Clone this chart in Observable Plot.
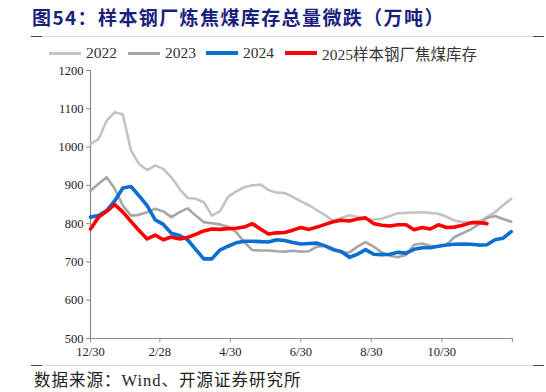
<!DOCTYPE html>
<html>
<head>
<meta charset="utf-8">
<script src="https://cdn.jsdelivr.net/npm/d3@7"></script>
<script src="https://cdn.jsdelivr.net/npm/@observablehq/plot@0.6"></script>
<style>
  html, body { margin: 0; padding: 0; background: #fff; }
  #wrap { position: relative; width: 546px; height: 392px; overflow: hidden; font-family: "Liberation Serif", "Noto Sans CJK SC", serif; }
  #title { position: absolute; left: 32px; top: 5px; font-family: "Noto Sans CJK SC", sans-serif; font-weight: 700; font-size: 19px; letter-spacing: 1.4px; color: #1b1f7d; white-space: nowrap; line-height: 24px; }
  .sep { position: absolute; left: 31px; width: 513px; height: 1px; background: #d9d9d9; }
  .sep::before, .sep::after { content: ""; position: absolute; top: 0; width: 11px; height: 1px; background: #444; }
  .sep::before { left: 0; }
  .sep::after { right: 0; }
  #legend { position: absolute; left: 0; top: 42px; width: 546px; height: 22px; }
  .li { position: absolute; top: 0; display: flex; align-items: center; height: 22px; font-size: 15.5px; color: #333; white-space: nowrap; font-family: "Liberation Serif", "Noto Sans CJK SC", serif; }
  .sw { display: inline-block; width: 32px; margin-right: 5px; }
  #chart { position: absolute; left: 0; top: 60px; }
  #source { position: absolute; left: 34px; top: 371px; font-size: 16.5px; line-height: 19px; color: #222; white-space: nowrap; font-family: "Liberation Serif", "Noto Sans CJK SC", serif; letter-spacing: 1px; }
</style>
</head>
<body>
<div id="wrap">
  <div id="title">图54：样本钢厂炼焦煤库存总量微跌（万吨）</div>
  <div class="sep" style="top:36px"></div>
  <div id="legend"></div>
  <div id="chart"></div>
  <div class="sep" style="top:365px"></div>
  <div id="source">数据来源：Wind、开源证券研究所</div>
</div>
<script>
// ---- data (weekly readings, x = days since 12/30) ----
const seriesNames = ["2022", "2023", "2024", "2025样本钢厂焦煤库存"];
const seriesColors = ["#c3c3c3", "#a6a6a6", "#0a6fd0", "#ff0000"];
const seriesWidths = [2.6, 2.6, 3.6, 3.6];

const v2022 = [1008,1021,1069,1091,1085,991,956,940,952,943,921,891,867,865,856,821,832,870,884,895,900,902,888,881,880,870,858,848,835,822,808,815,822,818,812,810,813,820,827,828,829,830,828,826,818,808,804,804,806,817,830,848,865];
const v2023 = [886,904,921,891,847,821,823,830,839,832,817,830,840,821,804,801,798,792,778,752,731,730,730,728,727,729,727,728,740,742,735,724,725,740,752,740,725,716,712,718,745,748,742,740,745,765,775,785,798,815,820,812,805];
const v2024 = [817,821,834,860,893,897,873,847,810,798,775,769,758,733,708,708,731,741,750,754,754,753,752,758,756,751,747,748,749,742,732,727,712,720,732,720,719,720,725,723,733,737,737,741,744,746,747,746,744,745,758,762,779];
const v2025 = [786,817,832,850,830,806,782,760,770,758,765,760,764,772,781,786,785,787,788,791,800,786,773,776,777,783,790,785,791,798,805,809,807,812,815,800,796,794,797,797,784,790,786,797,790,791,796,802,803,800];

const tickDays = [0, 60, 121, 182, 243, 304, 365];
const tickLabels = ["12/30", "2/28", "4/30", "6/30", "8/30", "10/30", ""];
const yTicks = [500, 600, 700, 800, 900, 1000, 1100, 1200];

// ---- build table ----
const allValues = [v2022, v2023, v2024, v2025];
const rows = [];
allValues.forEach((arr, s) => arr.forEach((v, i) => rows.push({series: seriesNames[s], day: i * 7, value: v})));

// ---- legend ----
const legendPos = [49, 128, 206, 285];
const legend = document.getElementById("legend");
seriesNames.forEach((n, s) => {
  const d = document.createElement("div");
  d.className = "li";
  d.style.left = legendPos[s] + "px";
  d.innerHTML = `<span class="sw" style="height:${s < 2 ? 3 : 4}px;background:${seriesColors[s]}"></span>${n}`;
  legend.appendChild(d);
});

// ---- chart ----
const lineMarks = seriesNames.map((n, s) =>
  Plot.line(rows.filter(r => r.series === n), {x: "day", y: "value", stroke: seriesColors[s], strokeWidth: seriesWidths[s], strokeLinejoin: "round", strokeLinecap: "round"})
);

const chart = Plot.plot({
  width: 546,
  height: 305,
  marginTop: 10,
  marginBottom: 27,
  marginLeft: 90,
  marginRight: 33,
  style: {fontFamily: "'Liberation Serif', serif", fontSize: "12.5px", color: "#222", background: "transparent", overflow: "visible"},
  x: {domain: [0, 366], label: null},
  y: {domain: [500, 1200], label: null},
  marks: [
    Plot.axisY({ticks: yTicks, tickFormat: d => String(d), tickSize: 4, tickPadding: 3, stroke: "#8c8c8c", label: null, fontSize: 12.5}),
    Plot.axisX({ticks: tickDays, tickFormat: d => tickLabels[tickDays.indexOf(d)], tickSize: 4, tickPadding: 5, stroke: "#8c8c8c", label: null, fontSize: 12.5}),
    Plot.ruleX([0], {stroke: "#8c8c8c", strokeWidth: 1.2}),
    Plot.ruleY([500], {stroke: "#8c8c8c", strokeWidth: 1.2}),
    ...lineMarks
  ]
});
document.getElementById("chart").appendChild(chart);
</script>
</body>
</html>
